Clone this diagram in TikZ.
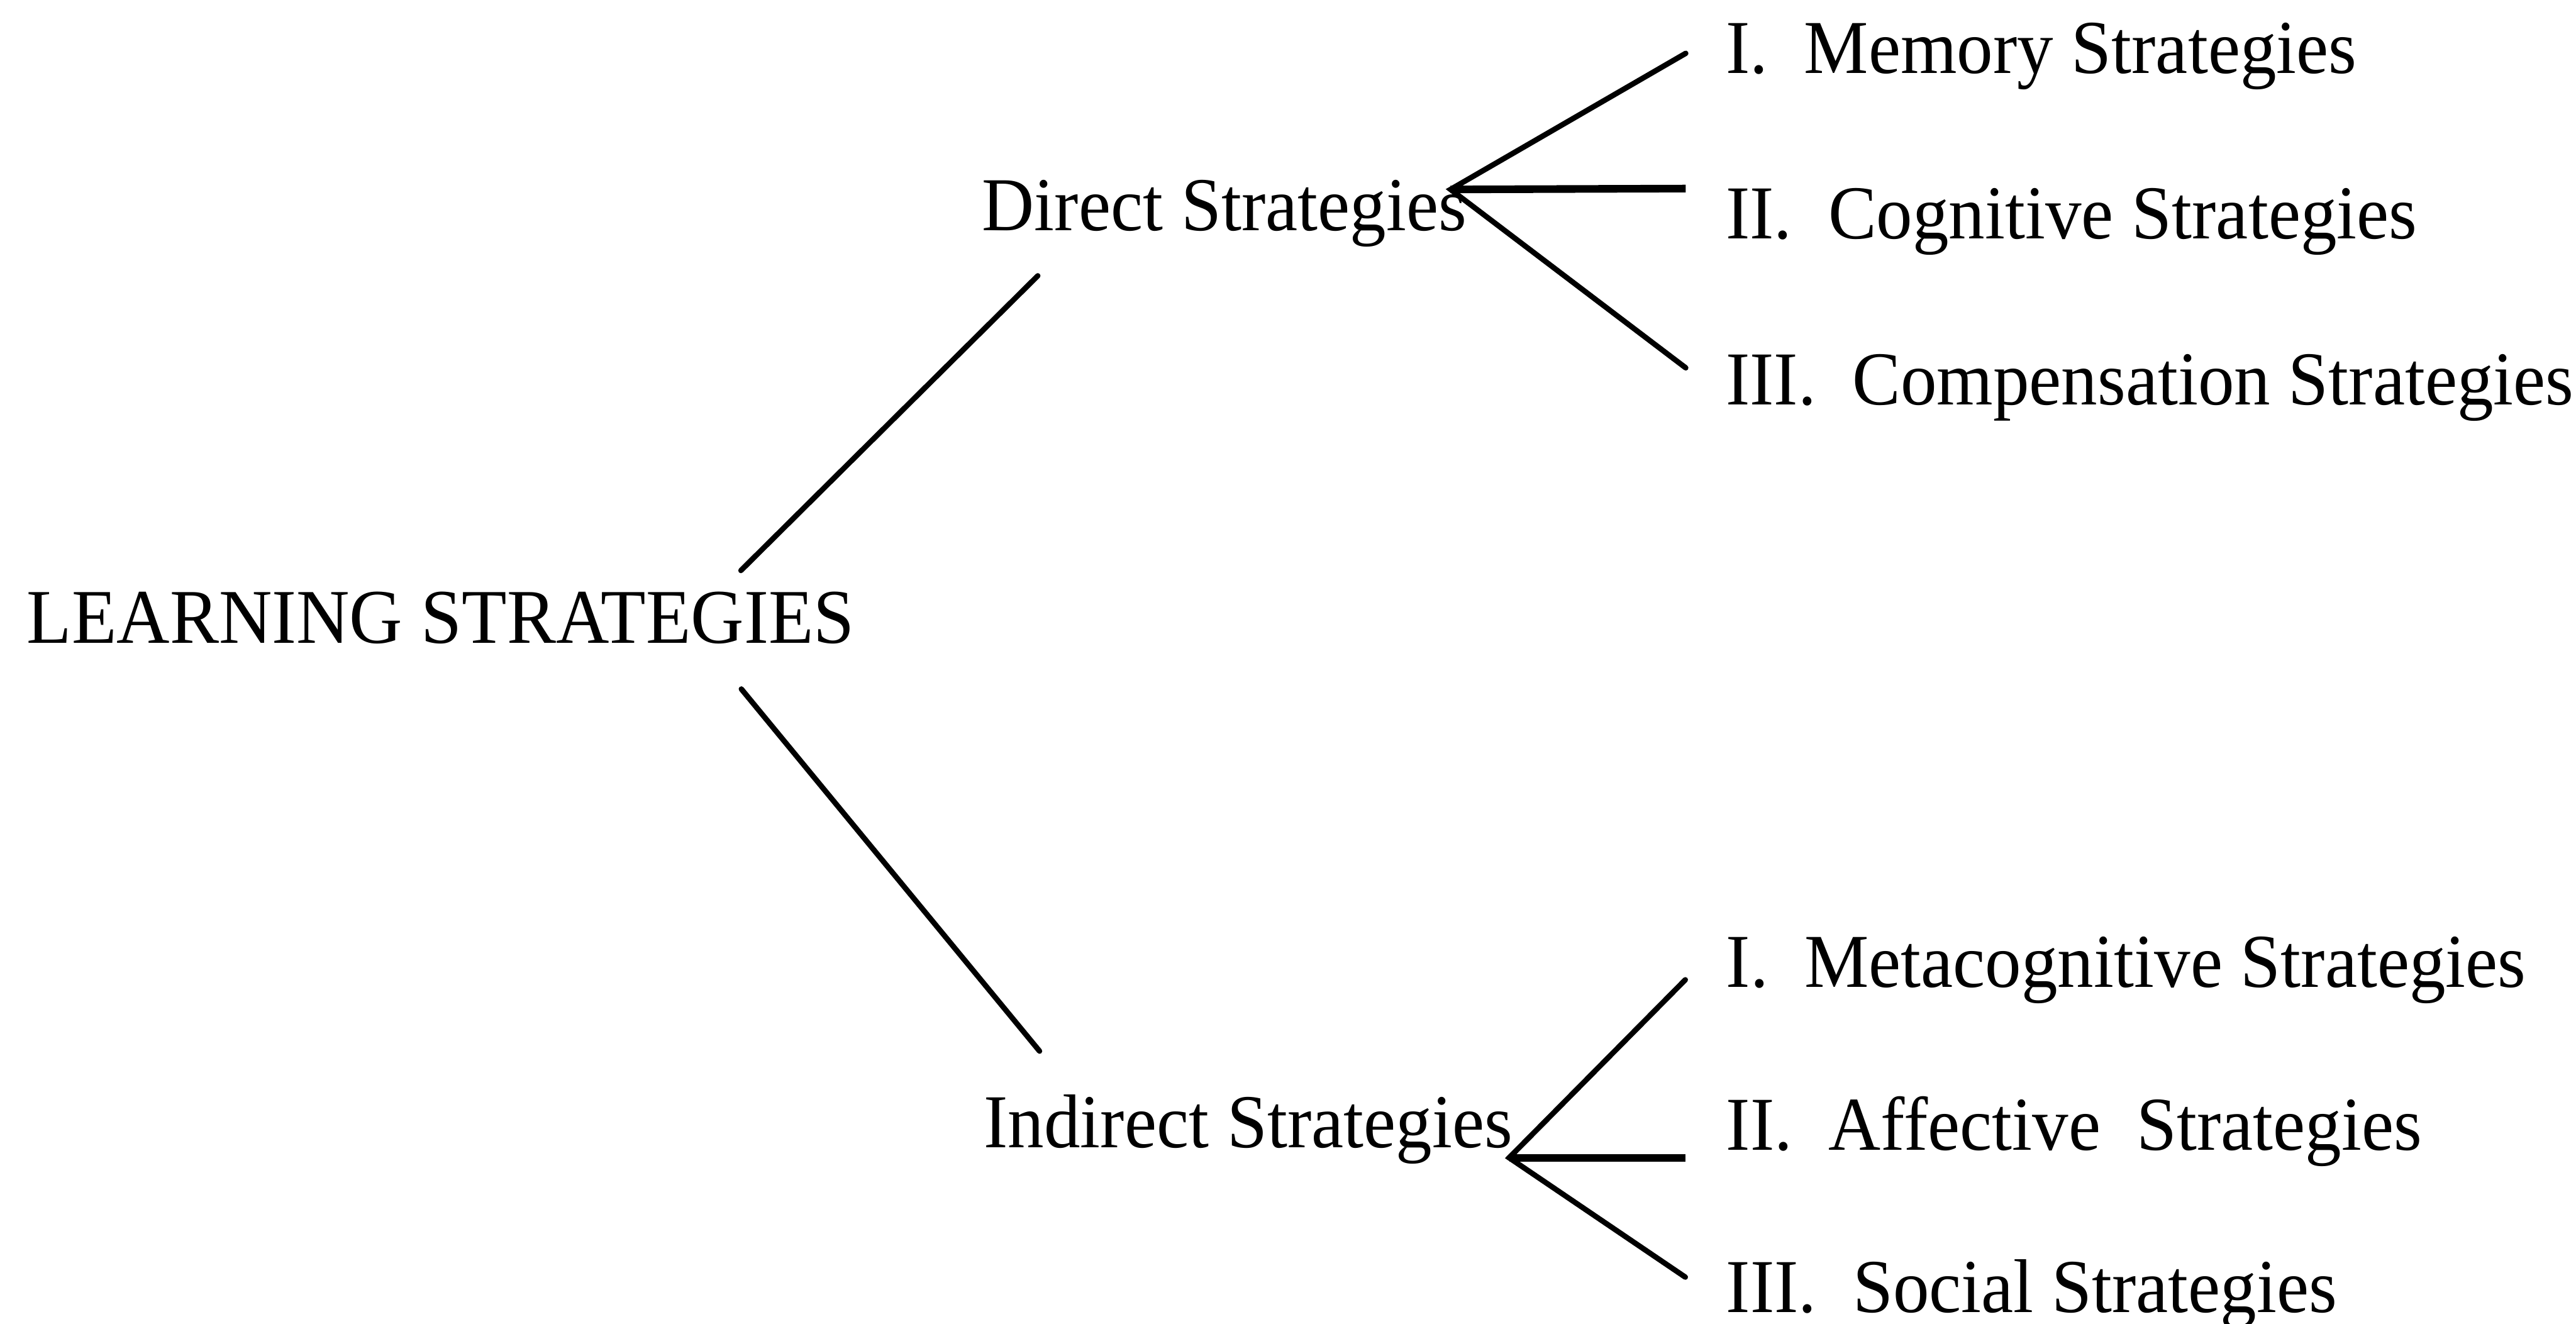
\documentclass[tikz,border=0pt]{standalone}
\usepackage{fontspec}
\setmainfont[FakeStretch=0.95]{Liberation Serif}
\usetikzlibrary{positioning}

\begin{document}
\begin{tikzpicture}[x=6.94pt, y=-6.94pt,
    txt/.style={anchor=base west, inner sep=0pt, font=\fontsize{12}{14}\selectfont},
    branch/.style={line width=0.85pt, line cap=round},
    flat/.style={line width=1.2pt}]
    \useasboundingbox (0,0) rectangle (58.48,30.04);

    % main heading and the two groups
    \node[txt, font=\fontsize{12.2}{14}\selectfont] (ls) at (0.58,14.60) {LEARNING STRATEGIES};
    \node[txt] (direct) at (22.27,5.23) {Direct Strategies};
    \node[txt] (indirect) at (22.31,26.05) {Indirect Strategies};

    % direct group
    \node[txt] (mem) at (39.15,1.66) {I.\ \ Memory Strategies};
    \node[txt] (cog) at (39.15,5.42) {II.\ \ Cognitive Strategies};
    \node[txt] (comp) at (39.15,9.19) {III.\ \ Compensation Strategies};

    % indirect group
    \node[txt] (meta) at (39.16,22.41) {I.\ \ Metacognitive Strategies};
    \node[txt] (aff) at (39.16,26.10) {II.\ \ Affective\ \ Strategies};
    \node[txt] (soc) at (39.16,29.79) {III.\ \ Social Strategies};

    % line ends
    \coordinate (ls-up) at (16.82,12.95);
    \coordinate (ls-down) at (16.83,15.64);
    \coordinate (direct-in) at (23.56,6.26);
    \coordinate (indirect-in) at (23.60,23.86);
    \coordinate (direct-fork) at (32.93,4.30);
    \coordinate (indirect-fork) at (34.26,26.28);
    \coordinate (mem-in) at (38.27,1.21);
    \coordinate (cog-in) at (38.27,4.28);
    \coordinate (comp-in) at (38.27,8.35);
    \coordinate (meta-in) at (38.26,22.24);
    \coordinate (aff-in) at (38.26,26.28);
    \coordinate (soc-in) at (38.26,28.99);

    \draw[branch] (ls-up) -- (direct-in);
    \draw[branch] (ls-down) -- (indirect-in);

    \draw[branch] (mem-in) -- (direct-fork) -- (comp-in);
    \draw[flat] (direct-fork) -- (cog-in);

    \draw[branch] (meta-in) -- (indirect-fork) -- (soc-in);
    \draw[flat] (indirect-fork) -- (aff-in);
\end{tikzpicture}
\end{document}
